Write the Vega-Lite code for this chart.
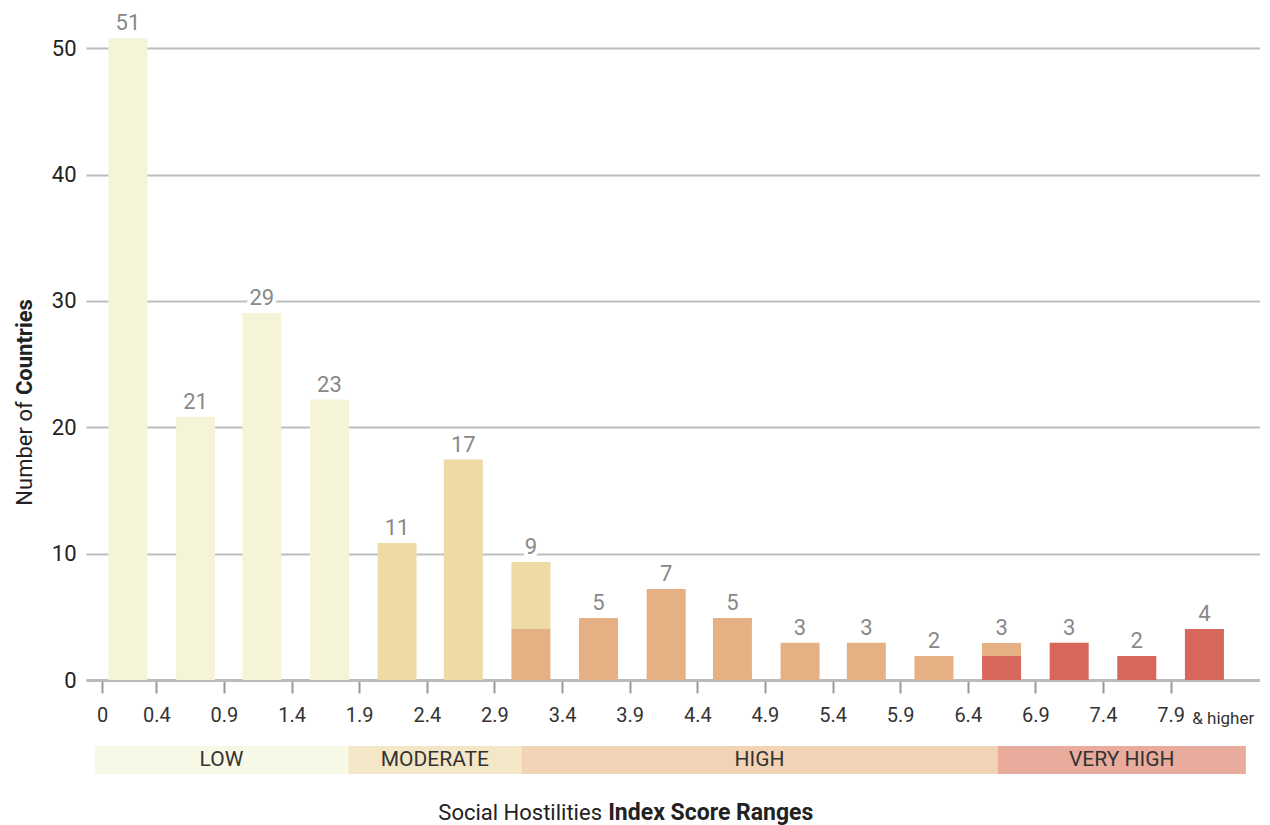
{
  "$schema": "https://vega.github.io/schema/vega-lite/v6.json",
  "background": "white",
  "padding": {"left": 14, "top": 12, "right": 0, "bottom": 0},
  "config": {"view": {"stroke": null}, "font": "Roboto"},
  "datasets": {
    "bars": [
      {"mid": 0.19, "cat": "LOW", "lvl": 1, "n": 50.8},
      {"mid": 0.69, "cat": "LOW", "lvl": 1, "n": 20.84},
      {"mid": 1.18, "cat": "LOW", "lvl": 1, "n": 29.05},
      {"mid": 1.68, "cat": "LOW", "lvl": 1, "n": 22.2},
      {"mid": 2.18, "cat": "MODERATE", "lvl": 2, "n": 10.84},
      {"mid": 2.67, "cat": "MODERATE", "lvl": 2, "n": 17.45},
      {"mid": 3.17, "cat": "HIGH", "lvl": 3, "n": 4.03},
      {"mid": 3.17, "cat": "MODERATE", "lvl": 2, "n": 5.3},
      {"mid": 3.67, "cat": "HIGH", "lvl": 3, "n": 4.9},
      {"mid": 4.17, "cat": "HIGH", "lvl": 3, "n": 7.2},
      {"mid": 4.66, "cat": "HIGH", "lvl": 3, "n": 4.9},
      {"mid": 5.16, "cat": "HIGH", "lvl": 3, "n": 2.95},
      {"mid": 5.65, "cat": "HIGH", "lvl": 3, "n": 2.95},
      {"mid": 6.15, "cat": "HIGH", "lvl": 3, "n": 1.9},
      {"mid": 6.65, "cat": "VERY HIGH", "lvl": 4, "n": 1.9},
      {"mid": 6.65, "cat": "HIGH", "lvl": 3, "n": 1.03},
      {"mid": 7.15, "cat": "VERY HIGH", "lvl": 4, "n": 2.95},
      {"mid": 7.65, "cat": "VERY HIGH", "lvl": 4, "n": 1.9},
      {"mid": 8.15, "cat": "VERY HIGH", "lvl": 4, "n": 4.03}
    ],
    "labels": [
      {"mid": 0.19, "top": 50.8, "label": "51"},
      {"mid": 0.69, "top": 20.84, "label": "21"},
      {"mid": 1.18, "top": 29.05, "label": "29"},
      {"mid": 1.68, "top": 22.2, "label": "23"},
      {"mid": 2.18, "top": 10.84, "label": "11"},
      {"mid": 2.67, "top": 17.45, "label": "17"},
      {"mid": 3.17, "top": 9.33, "label": "9"},
      {"mid": 3.67, "top": 4.9, "label": "5"},
      {"mid": 4.17, "top": 7.2, "label": "7"},
      {"mid": 4.66, "top": 4.9, "label": "5"},
      {"mid": 5.16, "top": 2.95, "label": "3"},
      {"mid": 5.65, "top": 2.95, "label": "3"},
      {"mid": 6.15, "top": 1.9, "label": "2"},
      {"mid": 6.65, "top": 2.93, "label": "3"},
      {"mid": 7.15, "top": 2.95, "label": "3"},
      {"mid": 7.65, "top": 1.9, "label": "2"},
      {"mid": 8.15, "top": 4.03, "label": "4"}
    ],
    "bands": [
      {"cat": "LOW", "start": -0.02, "end": 1.84},
      {"cat": "MODERATE", "start": 1.84, "end": 3.11},
      {"cat": "HIGH", "start": 3.11, "end": 6.6},
      {"cat": "VERY HIGH", "start": 6.6, "end": 8.42}
    ]
  },
  "bounds": "flush",
  "spacing": 66,
  "resolve": {"scale": {"color": "independent"}},
  "vconcat": [
    {
      "width": 1174,
      "height": 657,
      "layer": [
        {
          "data": {"name": "bars"},
          "mark": {"type": "bar", "width": 39},
          "encoding": {
            "x": {
              "field": "mid", "type": "quantitative",
              "scale": {"domain": [-0.083, 8.524], "nice": false, "zero": false},
              "axis": {
                "values": [0, 0.4, 0.9, 1.4, 1.9, 2.4, 2.9, 3.4, 3.9, 4.4, 4.9, 5.4, 5.9, 6.4, 6.9, 7.4, 7.9],
                "labelExpr": "datum.value == 0 ? '0' : format(datum.value, '.1f')",
                "title": null,
                "grid": false,
                "domainColor": "#bbbbbb",
                "domainWidth": 3,
                "tickColor": "#999999",
                "tickWidth": 2,
                "tickSize": 13,
                "labelFontSize": 20,
                "labelColor": "#333333",
                "labelPadding": 12,
                "labelBaseline": "top",
                "labelOverlap": false,
                "labelFlush": false,
                "labelBound": false
              }
            },
            "y": {
              "field": "n", "type": "quantitative", "stack": "zero",
              "scale": {"domain": [0, 52], "nice": false},
              "axis": {
                "values": [0, 10, 20, 30, 40, 50],
                "title": null,
                "domain": false,
                "ticks": false,
                "gridColor": "#bdbdbd",
                "gridWidth": 2,
                "labelFontSize": 22,
                "labelColor": "#222222",
                "labelPadding": 10
              }
            },
            "color": {
              "field": "cat", "type": "nominal",
              "scale": {"domain": ["LOW", "MODERATE", "HIGH", "VERY HIGH"], "range": ["#f5f4d8", "#eddaa4", "#e5b083", "#d6675a"]},
              "legend": null
            },
            "order": {"field": "lvl", "sort": "descending"}
          }
        },
        {
          "data": {"name": "labels"},
          "mark": {"type": "text", "baseline": "alphabetic", "dy": -8, "fontSize": 22, "fill": "white", "stroke": "white", "strokeWidth": 8},
          "encoding": {
            "x": {"field": "mid", "type": "quantitative"},
            "y": {"field": "top", "type": "quantitative"},
            "text": {"field": "label"}
          }
        },
        {
          "data": {"name": "labels"},
          "mark": {"type": "text", "baseline": "alphabetic", "dy": -8, "fontSize": 22, "color": "#888888"},
          "encoding": {
            "x": {"field": "mid", "type": "quantitative"},
            "y": {"field": "top", "type": "quantitative"},
            "text": {"field": "label"}
          }
        },
        {
          "data": {"values": [{"t": "& higher"}]},
          "mark": {"type": "text", "align": "left", "baseline": "alphabetic", "fontSize": 17, "color": "#333333"},
          "encoding": {
            "x": {"datum": 8.06, "type": "quantitative"},
            "y": {"datum": -3.45, "type": "quantitative"},
            "text": {"field": "t"}
          }
        },
        {
          "data": {"values": [{"t": "Number of"}]},
          "mark": {"type": "text", "angle": 270, "align": "right", "baseline": "middle", "fontSize": 22, "color": "#222222"},
          "encoding": {
            "x": {"datum": -0.57, "type": "quantitative"},
            "y": {"datum": 22.05, "type": "quantitative"},
            "text": {"field": "t"}
          }
        },
        {
          "data": {"values": [{"t": "Countries"}]},
          "mark": {"type": "text", "angle": 270, "align": "left", "baseline": "middle", "fontSize": 22, "fontWeight": "bold", "color": "#222222"},
          "encoding": {
            "x": {"datum": -0.57, "type": "quantitative"},
            "y": {"datum": 22.55, "type": "quantitative"},
            "text": {"field": "t"}
          }
        }
      ]
    },
    {
      "width": 1174,
      "height": 28,
      "layer": [
        {
          "data": {"name": "bands"},
          "mark": {"type": "rect"},
          "encoding": {
            "x": {"field": "start", "type": "quantitative", "scale": {"domain": [-0.083, 8.524], "nice": false, "zero": false}, "axis": null},
            "x2": {"field": "end"},
            "color": {
              "field": "cat", "type": "nominal",
              "scale": {"domain": ["LOW", "MODERATE", "HIGH", "VERY HIGH"], "range": ["#f8f8e7", "#f3e7c7", "#f2d3b6", "#e9ab9c"]},
              "legend": null
            }
          }
        },
        {
          "data": {"name": "bands"},
          "transform": [{"calculate": "(datum.start + datum.end) / 2", "as": "center"}],
          "mark": {"type": "text", "fontSize": 21, "color": "#333333", "baseline": "middle"},
          "encoding": {
            "x": {"field": "center", "type": "quantitative"},
            "text": {"field": "cat"}
          }
        },
        {
          "data": {"values": [{"t": "Social Hostilities"}]},
          "mark": {"type": "text", "align": "right", "baseline": "middle", "dy": 53, "fontSize": 22, "color": "#222222"},
          "encoding": {
            "x": {"datum": 3.7, "type": "quantitative"},
            "text": {"field": "t"}
          }
        },
        {
          "data": {"values": [{"t": "Index Score Ranges"}]},
          "mark": {"type": "text", "align": "left", "baseline": "middle", "dy": 53, "fontSize": 23, "fontWeight": "bold", "color": "#222222"},
          "encoding": {
            "x": {"datum": 3.745, "type": "quantitative"},
            "text": {"field": "t"}
          }
        }
      ]
    }
  ]
}
